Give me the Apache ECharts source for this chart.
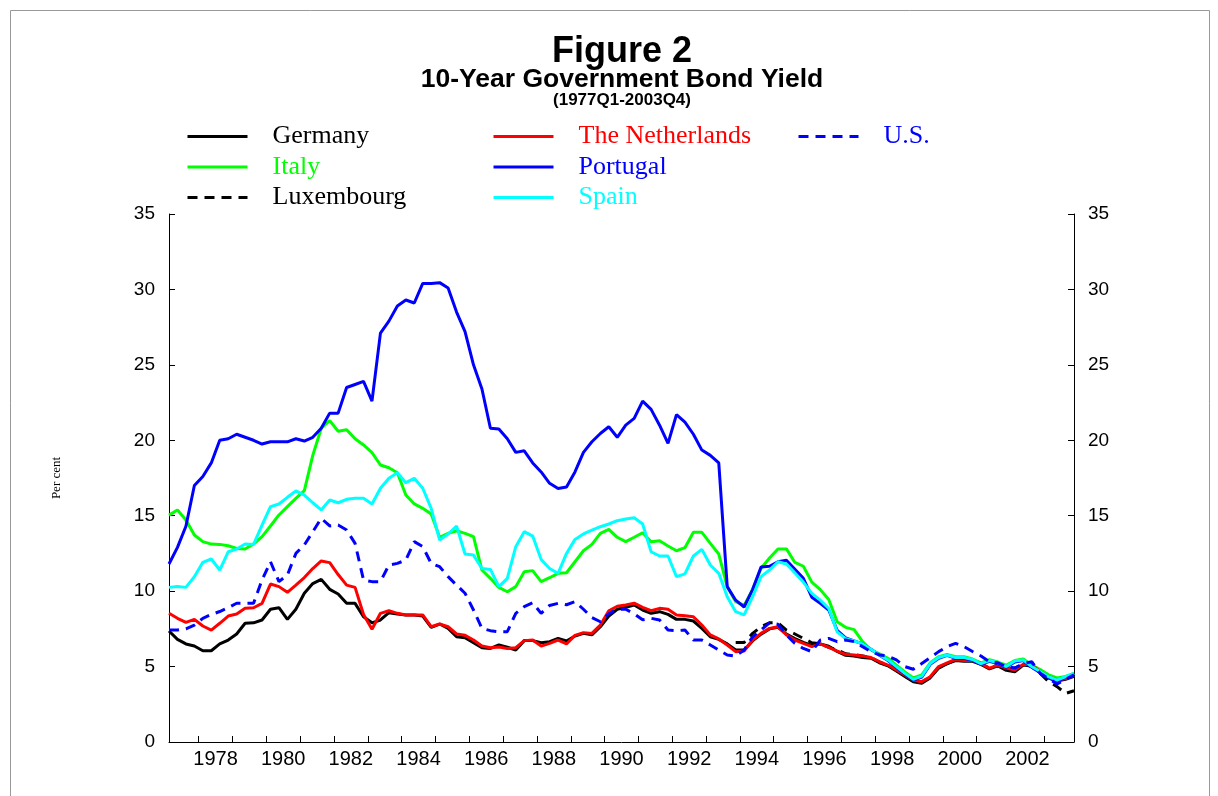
<!DOCTYPE html>
<html>
<head>
<meta charset="utf-8">
<script src="https://cdn.jsdelivr.net/npm/echarts@6/dist/echarts.min.js"></script>
<style>
html, body { margin: 0; padding: 0; background: #fff; }
#c1 { width: 1218px; height: 796px; }
</style>
</head>
<body>
<div id="c1"></div>
<script>
// quarterly categories 1977Q1 .. 2003Q4
var quarters = [];
for (var y = 1977; y <= 2003; y++)
  for (var q = 1; q <= 4; q++) quarters.push(y + 'Q' + q);

var tickYears = [1978,1979,1980,1981,1982,1983,1984,1985,1986,1987,1988,1989,1990,
                 1991,1992,1993,1994,1995,1996,1997,1998,1999,2000,2001,2002,2003];
var labelYears = [1978,1980,1982,1984,1986,1988,1990,1992,1994,1996,1998,2000,2002];

var germany = [
  7.36, 6.8, 6.5, 6.36,   6.05, 6.05, 6.5, 6.76,
  7.16, 7.87, 7.9, 8.09,  8.8, 8.9, 8.13, 8.8,
  9.86, 10.5, 10.78, 10.12, 9.81, 9.19, 9.19, 8.3,
  7.9, 8.09, 8.57, 8.48,  8.42, 8.42, 8.35, 7.6,
  7.82, 7.53, 6.98, 6.91, 6.58, 6.25, 6.2, 6.43,
  6.28, 6.1, 6.72, 6.72,  6.58, 6.65, 6.87, 6.7,
  7.03, 7.2, 7.1, 7.64,   8.35, 8.8, 8.93, 9.08,
  8.75, 8.53, 8.64, 8.46, 8.13, 8.13, 8.02, 7.53,
  6.98, 6.8, 6.5, 6.1,    6.1, 6.7, 7.15, 7.5,
  7.6, 7.15, 6.85, 6.6,   6.4, 6.5, 6.35, 6.0,
  5.75, 5.7, 5.6, 5.55,   5.25, 5.05, 4.7, 4.35,
  4.0, 3.9, 4.25, 4.9,    5.2, 5.4, 5.35, 5.35,
  5.15, 4.85, 5.05, 4.75, 4.65, 5.1, 5.05, 4.6,
  4.25, 4.05, 4.15, 4.35
];
var italy = [
  15.04, 15.38, 14.72, 13.72, 13.28, 13.12, 13.1, 13.01,
  12.83, 12.79, 13.12, 13.61, 14.32, 15.05, 15.6, 16.15,
  16.66, 19.0, 20.8, 21.3,    20.6, 20.7, 20.1, 19.69,
  19.18, 18.36, 18.18, 17.85, 16.37, 15.78, 15.49, 15.11,
  13.57, 13.83, 14.0, 13.83,  13.61, 11.4, 10.85, 10.25,
  9.96, 10.3, 11.29, 11.36,   10.63, 10.89, 11.18, 11.22,
  11.95, 12.68, 13.1, 13.83,  14.1, 13.57, 13.28, 13.57,
  13.87, 13.28, 13.34, 12.99, 12.68, 12.88, 13.9, 13.9,
  13.17, 12.46, 10.3, 9.3,    9.05, 10.12, 11.5, 12.2,
  12.8, 12.8, 11.9, 11.65,    10.6, 10.1, 9.45, 7.97,
  7.6, 7.45, 6.65, 6.1,       5.85, 5.55, 5.1, 4.65,
  4.25, 4.45, 5.25, 5.65,     5.8, 5.65, 5.65, 5.5,
  5.25, 5.45, 5.3, 5.1,       5.4, 5.5, 5.1, 4.8,
  4.45, 4.25, 4.35, 4.55
];
var luxembourg = [
  null, null, null, null, null, null, null, null,
  null, null, null, null, null, null, null, null,
  null, null, null, null, null, null, null, null,
  null, null, null, null, null, null, null, null,
  null, null, null, null, null, null, null, null,
  null, null, null, null, null, null, null, null,
  null, null, null, null, null, null, null, null,
  null, null, null, null, null, null, null, null,
  null, null, null, 6.6,   6.6, 7.2, 7.64, 7.9,
  7.9, 7.42, 7.16, 6.87,   6.58, 6.5, 6.28, 6.1,
  5.85, 5.8, 5.7, 5.6,     5.3, 5.1, 4.75, 4.4,
  4.05, 3.95, 4.3, 4.95,   5.2, 5.45, 5.4, 5.4,
  5.2, 4.9, 5.1, 4.85,     4.9, 5.15, 5.0, 4.55,
  4.0, 3.67, 3.22, 3.4
];
var netherlands = [
  8.53, 8.2, 7.93, 8.13,  7.69, 7.42, 7.87, 8.35,
  8.48, 8.86, 8.9, 9.19,  10.47, 10.3, 9.92, 10.4,
  10.9, 11.5, 12.0, 11.89, 11.1, 10.4, 10.25, 8.45,
  7.47, 8.53, 8.7, 8.53,  8.42, 8.42, 8.42, 7.64,
  7.82, 7.64, 7.16, 7.07, 6.76, 6.36, 6.25, 6.3,
  6.2, 6.25, 6.72, 6.76,  6.36, 6.54, 6.76, 6.5,
  7.07, 7.25, 7.2, 7.75,  8.7, 9.0, 9.08, 9.2,
  8.93, 8.7, 8.86, 8.8,   8.42, 8.37, 8.3, 7.75,
  7.1, 6.83, 6.43, 5.99,  6.03, 6.76, 7.2, 7.53,
  7.64, 7.1, 6.76, 6.54,  6.32, 6.5, 6.28, 6.03,
  5.81, 5.77, 5.7, 5.6,   5.32, 5.1, 4.77, 4.44,
  4.1, 4.0, 4.33, 5.0,    5.25, 5.47, 5.4, 5.4,
  5.2, 4.9, 5.1, 4.9,     4.77, 5.15, 5.1, 4.67,
  4.33, 4.1, 4.2, 4.4
];
var portugal = [
  11.8, 12.9, 14.3, 17.0,   17.6, 18.5, 20.0, 20.1,
  20.4, 20.2, 20.0, 19.75,  19.9, 19.9, 19.9, 20.1,
  19.95, 20.2, 20.8, 21.8,  21.8, 23.5, 23.7, 23.9,
  22.6, 27.1, 27.9, 28.9,   29.3, 29.1, 30.4, 30.4,
  30.45, 30.1, 28.5, 27.2,  25.0, 23.4, 20.8, 20.75,
  20.1, 19.2, 19.3, 18.5,   17.9, 17.15, 16.8, 16.9,
  17.9, 19.2, 19.9, 20.45,  20.9, 20.2, 21.0, 21.45,
  22.6, 22.05, 21.0, 19.8,  21.7, 21.2, 20.4, 19.35,
  19.0, 18.5, 10.3, 9.4,    8.95, 10.1, 11.6, 11.65,
  11.95, 12.05, 11.45, 10.85, 9.6, 9.2, 8.75, 7.4,
  6.9, 6.7, 6.5, 6.15,      5.75, 5.4, 4.95, 4.5,
  4.1, 4.3, 5.15, 5.55,     5.75, 5.55, 5.55, 5.42,
  5.15, 5.35, 5.2, 4.95,    5.3, 5.4, 4.95, 4.6,
  4.25, 4.0, 4.3, 4.5
];
var spain = [
  10.25, 10.3, 10.25, 10.96, 11.91, 12.13, 11.4, 12.61,
  12.79, 13.12, 13.1, 14.38, 15.6, 15.78, 16.22, 16.64,
  16.37, 15.86, 15.38, 16.04, 15.86, 16.09, 16.15, 16.15,
  15.78, 16.82, 17.48, 17.85, 17.19, 17.48, 16.82, 15.49,
  13.39, 13.79, 14.32, 12.46, 12.39, 11.5, 11.44, 10.3,
  10.85, 12.95, 13.94, 13.65, 12.1, 11.5, 11.18, 12.5,
  13.43, 13.79, 14.05, 14.27, 14.45, 14.67, 14.78, 14.87,
  14.45, 12.61, 12.33, 12.33, 10.96, 11.14, 12.33, 12.77,
  11.73, 11.18, 9.63, 8.64,   8.42, 9.63, 10.96, 11.4,
  11.95, 11.8, 11.2, 10.6,    9.85, 9.4, 8.85, 7.3,
  6.85, 6.7, 6.5, 6.15,       5.77, 5.44, 5.0, 4.55,
  4.15, 4.37, 5.2, 5.6,       5.77, 5.6, 5.6, 5.47,
  5.2, 5.4, 5.25, 5.0,        5.37, 5.44, 5.0, 4.67,
  4.33, 4.1, 4.33, 4.55
];
var us = [
  7.42, 7.42, 7.5, 7.75,    8.2, 8.45, 8.65, 8.9,
  9.2, 9.2, 9.2, 10.74,     11.95, 10.63, 11.07, 12.5,
  13.06, 13.94, 14.83, 14.32, 14.38, 14.05, 13.17, 10.74,
  10.63, 10.63, 11.73, 11.84, 12.06, 13.28, 12.95, 11.84,
  11.62, 10.96, 10.4, 9.86,  8.75, 7.53, 7.38, 7.31,
  7.31, 8.53, 8.97, 9.23,    8.53, 9.05, 9.19, 9.1,
  9.3, 8.8, 8.25, 7.97,      8.5, 8.8, 8.8, 8.5,
  8.1, 8.2, 8.09, 7.42,      7.38, 7.42, 6.76, 6.76,
  6.43, 6.1, 5.77, 5.7,      6.1, 6.98, 7.42, 7.9,
  7.8, 7.1, 6.54, 6.2,       5.99, 6.76, 6.87, 6.65,
  6.76, 6.65, 6.32, 5.99,    5.77, 5.7, 5.44, 5.0,
  4.82, 5.2, 5.6, 5.99,      6.32, 6.54, 6.32, 6.0,
  5.7, 5.32, 5.25, 5.0,      4.9, 5.2, 5.32, 4.55,
  4.2, 3.85, 4.15, 4.45
];

function makeChart(id, option){
  var myChart = echarts.init(document.getElementById(id), null, {renderer: 'canvas'});
  myChart.setOption(option);
  window.onresize = myChart.resize;
}

function lineSeries(name, data, color, dashed){
  return {
    name: name,
    type: 'line',
    data: data,
    symbol: 'none',
    connectNulls: false,
    lineStyle: {color: color, width: 3, type: dashed ? [10, 7] : 'solid'},
    itemStyle: {color: color}
  };
}

var sans = '"Liberation Sans", Arial, sans-serif';
var serif = '"Liberation Serif", "Times New Roman", serif';

var legendCommon = {
  orient: 'vertical',
  top: 123.5,
  padding: 0,
  itemWidth: 60,
  itemHeight: 14,
  itemGap: 4.5,
  itemStyle: {opacity: 0},   // hide the marker dot, keep the line
  lineStyle: {width: 3},
  textStyle: {fontFamily: serif, fontSize: 26, lineHeight: 26, padding: [0, 0, 0, 20]}
};

var option = {
  animation: false,
  backgroundColor: '#fff',
  graphic: [
    {type: 'rect', shape: {x: 10.5, y: 10.5, width: 1199, height: 800},
     style: {fill: 'none', stroke: '#999', lineWidth: 1}},
    {type: 'text', x: 622, y: 52,
     style: {text: 'Figure 2', font: 'bold 36px ' + sans, fill: '#000', align: 'center', verticalAlign: 'middle'}},
    {type: 'text', x: 622, y: 80,
     style: {text: '10-Year Government Bond Yield', font: 'bold 26.5px ' + sans, fill: '#000', align: 'center', verticalAlign: 'middle'}},
    {type: 'text', x: 622, y: 100,
     style: {text: '(1977Q1-2003Q4)', font: 'bold 17px ' + sans, fill: '#000', align: 'center', verticalAlign: 'middle'}}
  ],
  legend: [
    echarts.util.merge({left: 186, data: [
      {name: 'Germany', textStyle: {color: '#000'}},
      {name: 'Italy', textStyle: {color: '#00ff00'}},
      {name: 'Luxembourg', textStyle: {color: '#000'}}
    ]}, legendCommon),
    echarts.util.merge({left: 492, data: [
      {name: 'The Netherlands', textStyle: {color: '#ff0000'}},
      {name: 'Portugal', textStyle: {color: '#0000ff'}},
      {name: 'Spain', textStyle: {color: '#00ffff'}}
    ]}, legendCommon),
    echarts.util.merge({left: 797, data: [
      {name: 'U.S.', textStyle: {color: '#0000ff'}}
    ]}, legendCommon)
  ],
  grid: {left: 169, right: 144, top: 214, bottom: 54},
  xAxis: [
    {
      type: 'category',
      data: quarters,
      boundaryGap: false,
      axisLine: {lineStyle: {color: '#000', width: 1}},
      axisTick: {show: false},
      axisLabel: {show: false},
      splitLine: {show: false}
    },
    {
      type: 'value',
      position: 'bottom',
      offset: 0,
      min: 1977.125,
      max: 2003.875,
      axisLine: {show: false},
      axisTick: {show: true, inside: true, length: 6, customValues: tickYears,
                 lineStyle: {color: '#000'}},
      axisLabel: {
        customValues: labelYears.map(function(y){ return y + 0.5; }),
        formatter: function(v){ return String(Math.floor(v)); },
        color: '#000', fontFamily: sans, fontSize: 20, margin: 7
      },
      splitLine: {show: false}
    }
  ],
  yAxis: [
    {
      type: 'value', position: 'left', min: 0, max: 35, interval: 5,
      name: 'Per cent', nameLocation: 'middle', nameGap: 106, nameRotate: 90,
      nameTextStyle: {fontFamily: serif, fontSize: 13, color: '#000'},
      axisLine: {show: true, lineStyle: {color: '#000'}},
      axisTick: {show: true, inside: true, length: 6, lineStyle: {color: '#000'}},
      axisLabel: {color: '#000', fontFamily: sans, fontSize: 19, margin: 14},
      splitLine: {show: false}
    },
    {
      type: 'value', position: 'right', min: 0, max: 35, interval: 5,
      axisLine: {show: true, lineStyle: {color: '#000'}},
      axisTick: {show: true, inside: true, length: 6, lineStyle: {color: '#000'}},
      axisLabel: {color: '#000', fontFamily: sans, fontSize: 19, margin: 14},
      splitLine: {show: false}
    }
  ],
  series: [
    lineSeries('Germany', germany, '#000000', false),
    lineSeries('Italy', italy, '#00ff00', false),
    lineSeries('Luxembourg', luxembourg, '#000000', true),
    lineSeries('The Netherlands', netherlands, '#ff0000', false),
    lineSeries('Portugal', portugal, '#0000ff', false),
    lineSeries('Spain', spain, '#00ffff', false),
    lineSeries('U.S.', us, '#0000ff', true)
  ]
};

makeChart('c1', option);
</script>
</body>
</html>
